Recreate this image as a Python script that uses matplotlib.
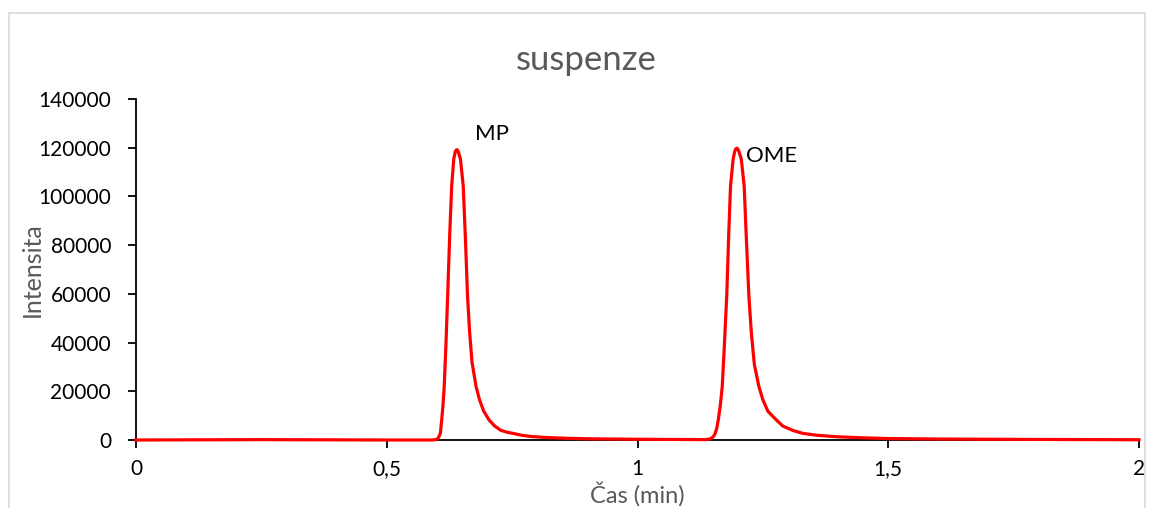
import numpy as np
import matplotlib.pyplot as plt
from matplotlib.patches import Rectangle
from matplotlib.ticker import FuncFormatter

# chromatogram (time in min, intensity)
cas = [0.0, 0.25, 0.5, 0.59, 0.598, 0.601, 0.603, 0.605, 0.607, 0.6096, 0.612,
       0.6146, 0.618, 0.6215, 0.6255, 0.6295, 0.6336, 0.6365, 0.6385, 0.640,
       0.6415, 0.6435, 0.647, 0.6525, 0.657, 0.661, 0.665, 0.670, 0.678, 0.685,
       0.693, 0.704, 0.715, 0.727, 0.740, 0.752, 0.77, 0.79, 0.82, 0.86, 0.90,
       1.0, 1.10, 1.135, 1.143, 1.148, 1.152, 1.155, 1.158, 1.161, 1.165, 1.169,
       1.173, 1.178, 1.182, 1.1855, 1.1907, 1.194, 1.196, 1.198, 1.200, 1.202,
       1.207, 1.2127, 1.217, 1.222, 1.227, 1.233, 1.242, 1.250, 1.260, 1.277,
       1.29, 1.31, 1.33, 1.36, 1.40, 1.45, 1.5, 1.6, 1.7, 2.0]
intenzita = [0, 150, 0, 0, 150, 450, 1000, 1800, 2900, 8200, 14000,
             22000, 39000, 59500, 84000, 104300, 115300, 118300, 119000, 119200,
             118900, 117800, 115300, 104300, 82000, 59500, 45000, 32000, 22000, 16500,
             12000, 8200, 5800, 4000, 3200, 2700, 1900, 1400, 1000, 700, 500,
             300, 200, 150, 350, 800, 1600, 2700, 4800, 8200, 14000, 22000,
             38000, 59500, 85000, 104300, 115300, 118600, 119500, 119800, 119500, 118600,
             115300, 104300, 83000, 59500, 44000, 31000, 22000, 16500, 11800, 8200,
             5700, 3900, 2700, 1900, 1300, 900, 600, 400, 300, 100]

peak_labels = ["MP", "OME"]
peak_pos = [(0.676, 125600), (1.216, 116500)]

plt.rcParams['font.family'] = ['Lato', 'DejaVu Sans']

fig = plt.figure(figsize=(11.51, 5.08), dpi=100)
fig.patches.append(Rectangle((9 / 1151, -0.1), (1145 - 9) / 1151, 1 - 13 / 508 + 0.1,
                             transform=fig.transFigure, fill=False,
                             edgecolor='#d9d9d9', linewidth=1.2))
ax = fig.add_axes([136 / 1151, 1 - 440 / 508, (1139 - 136) / 1151, (440 - 99) / 508])

ax.plot(cas, intenzita, color='#ff0000', linewidth=2.3, solid_joinstyle='round',
        clip_on=False, zorder=3)

for lab, (x, y) in zip(peak_labels, peak_pos):
    ax.text(x, y, lab, fontsize=16, color='black', va='center', ha='left')

ax.set_xlim(0, 2)
ax.set_ylim(0, 140000)
ax.set_xticks([0, 0.5, 1, 1.5, 2])
ax.set_yticks(np.arange(0, 140001, 20000))
ax.xaxis.set_major_formatter(FuncFormatter(lambda v, p: f"{v:g}".replace('.', ',')))
ax.tick_params(axis='both', direction='out', length=6, width=1.3, labelsize=15,
               colors='black')
ax.tick_params(axis='x', pad=8)
ax.tick_params(axis='y', pad=12)

for s in ['top', 'right']:
    ax.spines[s].set_visible(False)
for s in ['left', 'bottom']:
    ax.spines[s].set_linewidth(1.3)

fig.text(586 / 1151, 1 - 60 / 508, "suspenze", fontsize=25, color='#595959',
         ha='center', va='center')
ax.set_ylabel("Intensita", fontsize=18, color='#595959')
ax.yaxis.set_label_coords(32 / 1151, 1 - 270 / 508, transform=fig.transFigure)
ax.yaxis.label.set_va('center')
ax.set_xlabel("Čas (min)", fontsize=17, color='#595959')
ax.xaxis.set_label_coords(637 / 1151, 1 - 494 / 508, transform=fig.transFigure)
ax.xaxis.label.set_va('center')

fig.savefig("out.png", dpi=100)
